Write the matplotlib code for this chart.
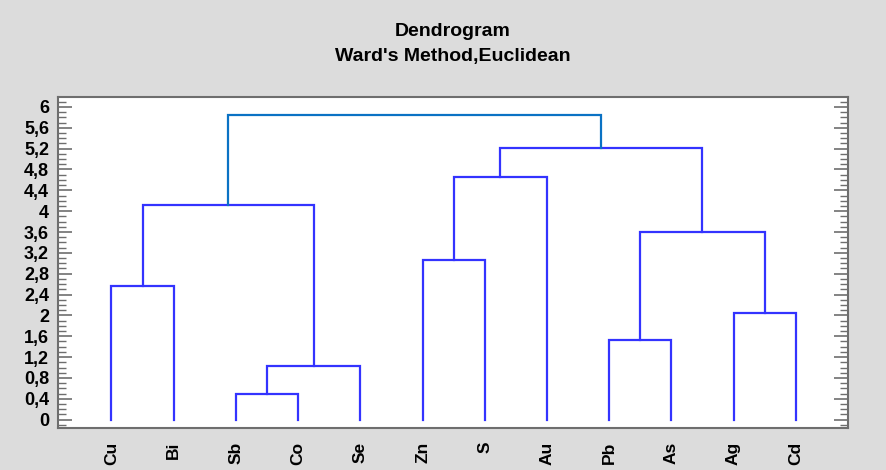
#!/usr/bin/env python3
''' Ward dendrogram of element concentrations. '''
import matplotlib
matplotlib.use('Agg')
import matplotlib.pyplot as plt
from matplotlib.ticker import MultipleLocator, FuncFormatter


leaves = ['Cu', 'Bi', 'Sb', 'Co', 'Se', 'Zn', 'S', 'Au', 'Pb', 'As', 'Ag', 'Cd']
# Merge steps (scipy style): new cluster id = len(leaves) + step index.
merge_left = [2, 12, 8, 10, 0, 5, 14, 16, 17, 20, 19]
merge_right = [3, 4, 9, 11, 1, 6, 15, 13, 7, 18, 21]
merge_height = [0.50, 1.03, 1.53, 2.05, 2.56, 3.07, 3.60, 4.12, 4.66, 5.21, 5.84]

link_color = '#3333ff'
top_color = '#0a72c4'
frame_color = '#6e6e6e'

plt.rcParams['font.family'] = ['Liberation Sans', 'DejaVu Sans']


def main():
  fig = plt.figure(figsize=(8.87, 4.70), dpi=100)
  fig.patch.set_facecolor('#dcdcdc')
  ax = fig.add_axes([58/887, 42/470, 790/887, 331/470])
  ax.set_facecolor('white')

  # Position / height of every node.
  xpos = {i: float(i) for i in range(len(leaves))}
  ypos = {i: 0.0 for i in range(len(leaves))}
  n = len(leaves)
  for k, (a, b, h) in enumerate(zip(merge_left, merge_right, merge_height)):
    color = top_color if k == len(merge_height)-1 else link_color
    ax.plot([xpos[a], xpos[a], xpos[b], xpos[b]], [ypos[a], h, h, ypos[b]],
      color=color, lw=1.6, solid_joinstyle='miter', zorder=3)
    xpos[n+k] = (xpos[a] + xpos[b]) / 2
    ypos[n+k] = h

  ax.set_xlim(-0.86, 11.84)
  ax.set_ylim(-0.16, 6.19)
  ax.set_xticks(range(len(leaves)))
  ax.set_xticklabels(leaves, rotation=90, fontsize=12.5, fontweight='bold')
  ax.tick_params(axis='x', length=0, pad=10)

  ax.yaxis.set_major_locator(MultipleLocator(0.4))
  ax.yaxis.set_minor_locator(MultipleLocator(0.1))
  ax.yaxis.set_major_formatter(FuncFormatter(lambda v, p: ('%g' % round(v, 1)).replace('.', ',')))
  ax.tick_params(axis='y', which='major', direction='in', length=10, width=1.2,
    color=frame_color, right=True, labelsize=13, pad=6.5)
  ax.tick_params(axis='y', which='minor', direction='in', length=5.5, width=1.0,
    color=frame_color, right=True)
  for lbl in ax.get_yticklabels():
    lbl.set_fontweight('bold')

  for s in ax.spines.values():
    s.set_color(frame_color)
    s.set_linewidth(1.5)

  cx = (58 + 848) / 2 / 887
  fig.text(cx, 1 - 31/470, 'Dendrogram', ha='center', va='center', fontsize=14, fontweight='bold')
  fig.text(cx, 1 - 57/470, "Ward's Method,Euclidean", ha='center', va='center', fontsize=14, fontweight='bold')

  fig.savefig('out.png', dpi=100, facecolor=fig.get_facecolor())


if __name__ == '__main__':
  main()
